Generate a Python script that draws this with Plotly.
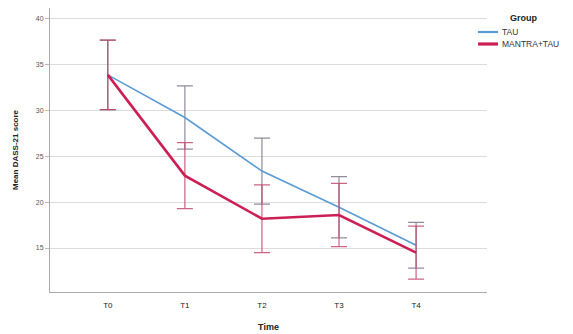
import plotly.graph_objects as go

time_labels = ["T0", "T1", "T2", "T3", "T4"]
x_pos = [0, 1, 2, 3, 4]

tau_mean = [33.9, 29.25, 23.4, 19.45, 15.3]
tau_err = [3.8, 3.45, 3.6, 3.35, 2.5]

mantra_mean = [33.9, 22.9, 18.2, 18.6, 14.5]
mantra_err = [3.8, 3.6, 3.7, 3.45, 2.9]

y_ticks = [15, 20, 25, 30, 35, 40]

series_names = ["TAU", "MANTRA+TAU"]
series_colors = ["#5b9bd5", "#cc1f55"]
series_widths = [1.6, 2.6]

fig = go.Figure()
fig.add_trace(go.Scatter(
    x=x_pos, y=tau_mean, mode="lines", name=series_names[0],
    line=dict(color=series_colors[0], width=series_widths[0]),
    error_y=dict(type="data", array=tau_err, visible=True,
                 color="rgba(110,100,120,0.75)", thickness=1.2, width=8),
))
fig.add_trace(go.Scatter(
    x=x_pos, y=mantra_mean, mode="lines", name=series_names[1],
    line=dict(color=series_colors[1], width=series_widths[1]),
    error_y=dict(type="data", array=mantra_err, visible=True,
                 color="rgba(190,60,100,0.8)", thickness=1.2, width=8),
))

W, H = 573, 334
ml, mr, mt, mb = 50, 86, 8, 42
pw, ph = W - ml - mr, H - mt - mb

def px_to_dom(px, py):
    return (px - ml) / pw, (H - mb - py) / ph

# compact legend in the SPSS style, placed in axis-domain coordinates
annotations = []
ax, ay = px_to_dom(523, 18)
annotations.append(dict(text="<b>Group</b>", x=ax, y=ay, xref="x domain", yref="y domain",
                        showarrow=False, font=dict(size=9, color="#222"),
                        xanchor="center", yanchor="middle"))
shapes = []
for i, (nm, col, lw) in enumerate(zip(series_names, series_colors, series_widths)):
    py = 32 + i * 12
    x0, y0 = px_to_dom(478, py)
    x1, _ = px_to_dom(498, py)
    shapes.append(dict(type="line", xref="x domain", yref="y domain",
                       x0=x0, x1=x1, y0=y0, y1=y0, line=dict(color=col, width=lw + 0.6)))
    tx, ty = px_to_dom(500, py)
    annotations.append(dict(text=nm, x=tx, y=ty, xref="x domain", yref="y domain",
                            showarrow=False, font=dict(size=8.5, color="#333"),
                            xanchor="left", yanchor="middle"))

fig.update_layout(
    width=W, height=H,
    margin=dict(l=ml, r=mr, t=mt, b=mb),
    paper_bgcolor="white", plot_bgcolor="white",
    font=dict(family="Liberation Sans, Arial, sans-serif", size=8, color="#333"),
    showlegend=False,
    annotations=annotations,
    shapes=shapes,
    xaxis=dict(
        range=[-0.75, 4.92], tickvals=x_pos, ticktext=time_labels,
        showgrid=False, zeroline=False, showline=True, linecolor="#aaa",
        linewidth=1, ticks="outside", ticklen=5, tickcolor="rgba(0,0,0,0)",
        tickfont=dict(size=8, color="#222"), automargin=False,
        title=dict(text="<b>Time</b>", font=dict(size=9, color="#222"), standoff=15),
    ),
    yaxis=dict(
        range=[10.2, 41.2], tickvals=y_ticks,
        showgrid=True, gridcolor="#dcdcdc", gridwidth=1, zeroline=False,
        showline=True, linecolor="#aaa", linewidth=1,
        ticks="outside", ticklen=4, tickcolor="#bbb",
        tickfont=dict(size=7, color="#555"), automargin=False,
        title=dict(text="<b>Mean DASS-21 score</b>", font=dict(size=8, color="#222"), standoff=16),
    ),
)

fig.write_html("out.html")
